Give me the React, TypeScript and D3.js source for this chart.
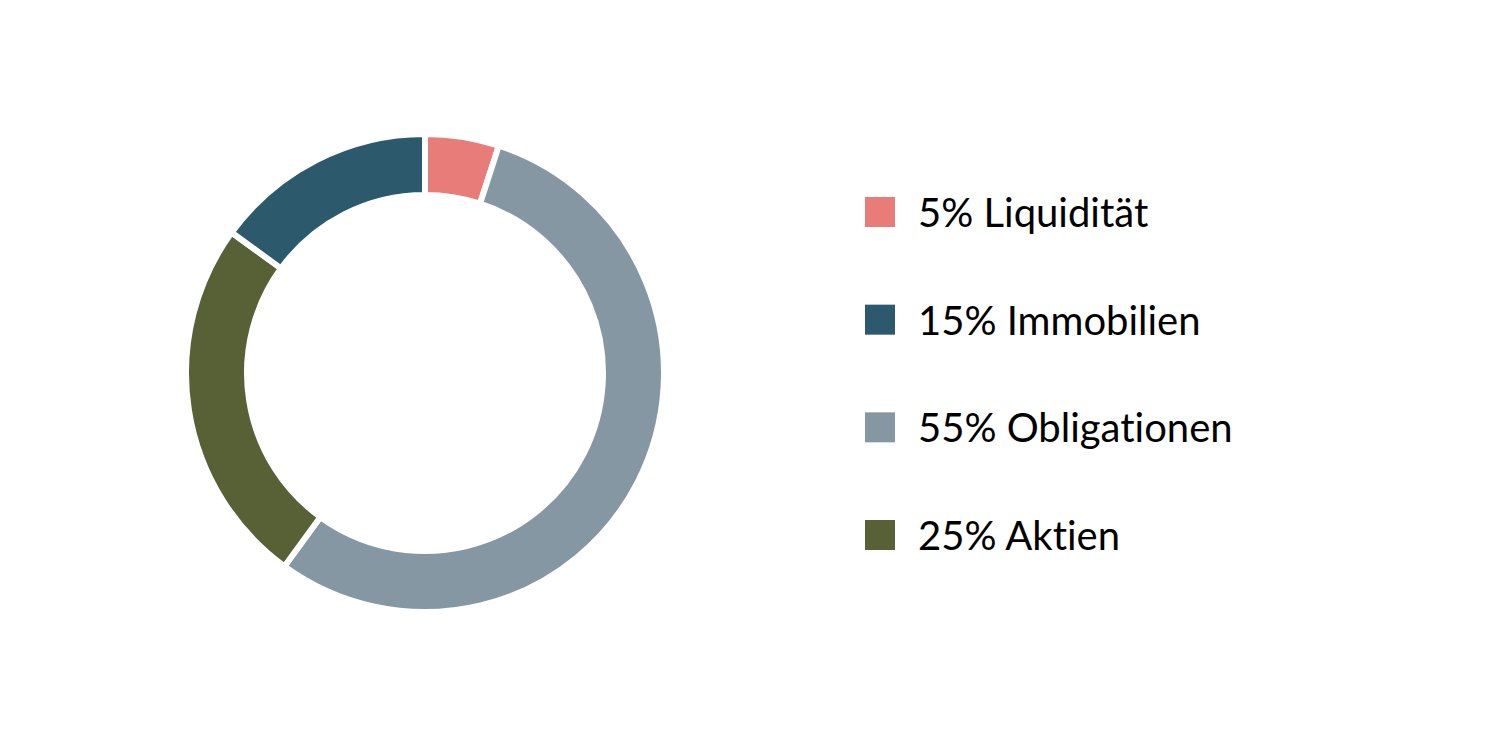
import React, { useEffect, useRef } from "react";
import * as d3 from "d3";

// slices in drawing order (clockwise from 12 o'clock)
const sliceLabels = ["Liquidität", "Obligationen", "Aktien", "Immobilien"];
const sliceValues = [5, 55, 25, 15];
const sliceColors = ["#E87C78", "#8697A4", "#586036", "#2C596B"];

// legend order differs from the ring order
const legendOrder = ["Liquidität", "Immobilien", "Obligationen", "Aktien"];

interface Slice {
  label: string;
  value: number;
  color: string;
}

const App = () => {
  const ref = useRef<SVGSVGElement>(null);

  useEffect(() => {
    const svg = d3.select(ref.current);
    svg.selectAll("*").remove();

    const data: Slice[] = sliceLabels.map((label, i) => ({
      label,
      value: sliceValues[i],
      color: sliceColors[i],
    }));

    const cx = 425;
    const cy = 373;
    const outer = 239;
    const inner = 178;

    const pie = d3
      .pie<Slice>()
      .value((d) => d.value)
      .sort(null);

    const arc = d3.arc<d3.PieArcDatum<Slice>>().innerRadius(inner).outerRadius(outer);

    const g = svg.append("g").attr("transform", `translate(${cx},${cy})`);
    g.selectAll("path")
      .data(pie(data))
      .enter()
      .append("path")
      .attr("d", arc)
      .attr("fill", (d) => d.data.color)
      .attr("stroke", "white")
      .attr("stroke-width", 6);

    // legend
    const y = d3
      .scalePoint<string>()
      .domain(legendOrder)
      .range([212, 535]);

    const legend = svg
      .selectAll("g.leg")
      .data(legendOrder)
      .enter()
      .append("g")
      .attr("class", "leg")
      .attr("transform", (d) => `translate(865,${y(d)})`);

    legend
      .append("rect")
      .attr("x", 0)
      .attr("y", -15)
      .attr("width", 30)
      .attr("height", 30)
      .attr("fill", (d) => data.find((s) => s.label === d)!.color);

    legend
      .append("text")
      .attr("x", 53)
      .attr("y", 15)
      .attr("font-family", "Lato, 'Open Sans', sans-serif")
      .attr("font-size", 40)
      .style("font-variant-ligatures", "none")
      .attr("fill", "#000")
      .text((d) => `${data.find((s) => s.label === d)!.value}% ${d}`);
  }, []);

  return (
    <svg
      ref={ref}
      width={1500}
      height={750}
      style={{ position: "absolute", left: 0, top: 0, background: "white" }}
    />
  );
};

export default App;
